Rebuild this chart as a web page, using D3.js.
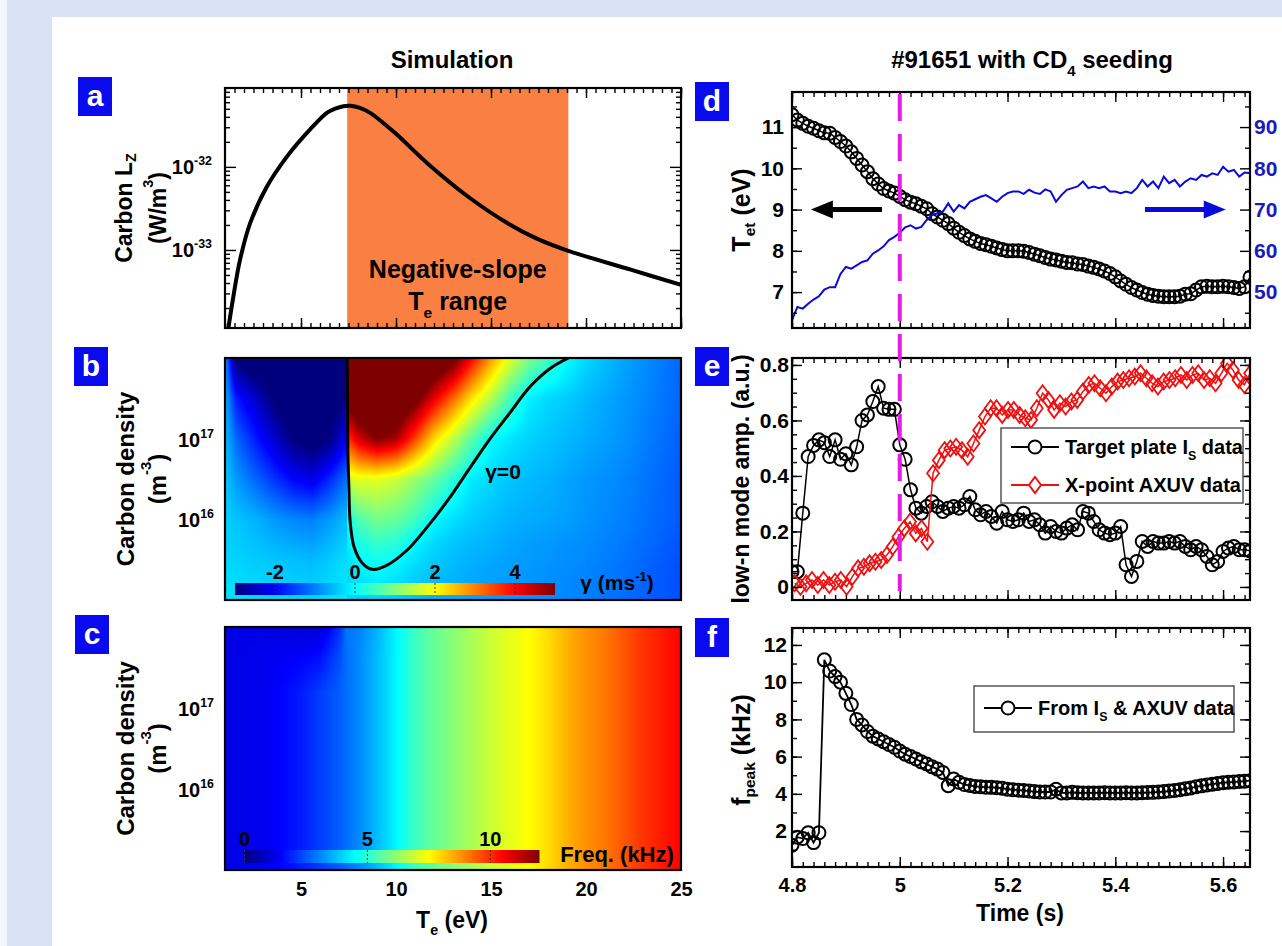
<!DOCTYPE html>
<html>
<head>
<meta charset="utf-8">
<script src="https://cdn.jsdelivr.net/npm/d3@7"></script>
<style>
body { margin: 0; background: #fff; }
svg text { font-family: "Liberation Sans Narrow", "Arial Narrow", "Liberation Sans", Arial, sans-serif; font-weight: bold; }
</style>
</head>
<body>
<svg id="fig"></svg>
<script>
// ---------- data ----------
// (a) carbon radiative cooling rate vs Te
const lzTe = [1.17, 1.44, 1.79, 2.32, 3.2, 4.25, 5.48, 6.36, 6.8, 7.23, 7.6, 8.1, 8.64, 9.94, 11.66, 13.8, 15.96, 17.47, 19.07, 22.4, 25];
const lzVal = [1.12e-34, 2.75e-34, 7.59e-34, 2.09e-33, 5.75e-33, 1.32e-32, 2.82e-32, 4.47e-32, 5.01e-32, 5.37e-32,
               5.43e-32, 5.13e-32, 4.47e-32, 2.57e-32, 1.10e-32, 4.37e-33, 2.04e-33, 1.35e-33, 9.77e-34, 5.75e-34, 3.8e-34];
const negSlope = [7.43, 19.07];

// (b) growth rate gamma (ms^-1) on a Te x log10(n) grid, split at the Lz peak
const gamLogN = [15, 15.5, 16, 16.5, 17, 17.5, 18];
const gamTeCold = [1, 1.6, 2.6, 3.6, 4.6, 5.6, 6.5, 7.42];
const gamCold = [
  [-0.2, -0.22, -0.25, -0.3, -0.3, -0.3, -0.25, -0.15],
  [-0.3, -0.35, -0.4, -0.45, -0.5, -0.55, -0.4, -0.25],
  [-0.35, -0.45, -0.6, -0.8, -0.95, -1.0, -0.8, -0.5],
  [-0.4, -0.8, -1.2, -1.6, -2.0, -2.2, -1.7, -1.1],
  [-0.5, -1.2, -1.8, -2.4, -3.0, -3.3, -3.0, -2.1],
  [-0.6, -1.8, -2.4, -3.1, -3.5, -3.5, -3.4, -2.9],
  [-0.8, -3.2, -3.5, -3.5, -3.5, -3.5, -3.5, -3.5]
];
const gamLogNHot = [15, 15.4, 15.7, 16, 16.5, 17, 17.5, 18];
const gamTeHot = [7.43, 8, 9, 10, 11, 12, 13, 14, 15, 16, 17, 18, 19, 20, 22, 25];
const gamHot = [
  [-0.3, -0.4, -0.35, -0.4, -0.5, -0.6, -0.65, -0.7, -0.75, -0.8, -0.85, -0.9, -0.95, -1.0, -1.15, -1.4],
  [-0.3, -0.1, 0.02, -0.1, -0.3, -0.45, -0.55, -0.65, -0.7, -0.75, -0.8, -0.85, -0.9, -0.95, -1.1, -1.4],
  [-0.15, 0.15, 0.4, 0.3, -0.05, -0.3, -0.45, -0.55, -0.6, -0.7, -0.75, -0.8, -0.85, -0.9, -1.05, -1.35],
  [0.0, 0.6, 0.9, 0.8, 0.5, 0.0, -0.25, -0.4, -0.5, -0.6, -0.65, -0.7, -0.75, -0.85, -1.0, -1.3],
  [1.6, 1.8, 1.8, 1.6, 1.2, 0.8, 0.3, -0.15, -0.3, -0.45, -0.55, -0.6, -0.7, -0.8, -0.95, -1.3],
  [3.5, 4.3, 5.0, 4.7, 3.5, 2.3, 1.5, 0.7, 0.0, -0.2, -0.35, -0.45, -0.55, -0.65, -0.85, -1.25],
  [5.5, 6.0, 6.2, 6.0, 5.3, 4.2, 3.2, 2.2, 1.4, 0.5, -0.1, -0.3, -0.4, -0.55, -0.8, -1.2],
  [8, 8, 7.5, 7, 6.5, 6, 5.3, 4.0, 2.8, 1.8, 1.0, 0.5, 0.03, -0.3, -0.7, -1.2]
];
// gamma = 0 contour
const zeroTe = [7.43, 7.45, 7.47, 7.52, 7.58, 7.79, 8.22, 8.76, 9.51, 10.59, 11.66, 12.74, 13.81, 14.89, 15.96, 17.04, 18.11, 19.08];
const zeroLogN = [18.0, 17.4, 16.82, 16.4, 15.99, 15.66, 15.46, 15.38, 15.43, 15.62, 15.91, 16.24, 16.61, 16.98, 17.31, 17.64, 17.87, 18.0];
const gamTicks = [-2, 0, 2, 4];

// (c) mode frequency (kHz)
const freqTe = [1, 3, 5, 6, 7, 7.4, 8, 9, 10, 11, 12, 13, 14, 15, 16, 17, 18, 19, 20, 21, 22, 23, 24, 25];
const freqLogN = [15, 17.2, 17.6, 18];
const freqGrid = [
  [1.2, 1.3, 1.8, 2.2, 2.6, 2.8, 3.1, 3.7, 4.4, 5.2, 5.7, 6.1, 6.5, 6.9, 7.2, 7.5, 7.9, 8.4, 8.8, 9.1, 9.5, 9.9, 10.2, 10.5],
  [1.2, 1.3, 1.8, 2.2, 2.6, 2.8, 3.1, 3.7, 4.4, 5.2, 5.7, 6.1, 6.5, 6.9, 7.2, 7.5, 7.9, 8.4, 8.8, 9.1, 9.5, 9.9, 10.2, 10.5],
  [1.2, 1.3, 1.5, 1.7, 2.4, 2.8, 3.1, 3.7, 4.4, 5.2, 5.7, 6.1, 6.5, 6.9, 7.2, 7.5, 7.9, 8.4, 8.8, 9.1, 9.5, 9.9, 10.2, 10.5],
  [1.2, 1.2, 1.0, 1.0, 2.0, 2.9, 3.0, 3.6, 4.4, 5.2, 5.7, 6.1, 6.5, 6.9, 7.2, 7.5, 7.9, 8.4, 8.8, 9.1, 9.5, 9.9, 10.2, 10.5]
];
const freqTicks = [0, 5, 10];

// (d)-(f) shot #91651, sampled every 10 ms from 4.80 s
const t0 = 4.80, dt = 0.01;
const tet = [11.30, 11.17, 11.09, 11.02, 10.97, 10.91, 10.86, 10.85, 10.75, 10.65,
  10.54, 10.40, 10.24, 10.08, 9.92, 9.75, 9.62, 9.51, 9.45, 9.40,
  9.32, 9.24, 9.18, 9.14, 9.08, 9.02, 8.90, 8.82, 8.74, 8.66,
  8.55, 8.45, 8.37, 8.29, 8.23, 8.18, 8.15, 8.11, 8.07, 8.03,
  8.00, 8.00, 8.00, 7.99, 7.96, 7.92, 7.88, 7.84, 7.80, 7.78,
  7.75, 7.72, 7.71, 7.68, 7.67, 7.63, 7.60, 7.56, 7.51, 7.45,
  7.37, 7.27, 7.19, 7.11, 7.05, 6.99, 6.95, 6.92, 6.90, 6.89,
  6.89, 6.89, 6.90, 6.95, 6.96, 7.05, 7.13, 7.14, 7.13, 7.13,
  7.14, 7.13, 7.11, 7.09, 7.13, 7.36];
const blueTrace = [43.2, 46.4, 46.0, 47.2, 48.2, 49.0, 50.6, 51.2, 51.2, 54.4,
  56.1, 55.7, 56.5, 57.3, 57.7, 59.3, 60.1, 61.1, 62.6, 63.4,
  64.4, 65.7, 66.2, 65.4, 65.8, 67.5, 68.7, 69.1, 69.5, 71.5,
  69.5, 71.1, 70.3, 71.9, 72.5, 73.1, 73.5, 72.7, 71.9, 73.1,
  74.0, 74.4, 74.4, 73.8, 74.8, 74.1, 73.8, 74.9, 74.4, 71.9,
  73.5, 74.8, 75.2, 75.6, 76.8, 75.2, 75.6, 75.2, 75.6, 74.4,
  74.4, 74.0, 74.4, 74.0, 75.2, 77.2, 75.6, 76.8, 75.2, 78.0,
  76.4, 77.2, 75.6, 76.8, 77.6, 77.2, 78.4, 78.0, 78.8, 78.4,
  80.4, 79.2, 79.6, 78.0, 79.0, 78.8];
const isAmp = [0.055, 0.055, 0.266, 0.47, 0.51, 0.53, 0.52, 0.47, 0.53, 0.46,
  0.48, 0.44, 0.505, 0.60, 0.62, 0.668, 0.722, 0.644, 0.64, 0.64,
  0.512, 0.46, 0.35, 0.284, 0.266, 0.29, 0.307, 0.29, 0.272, 0.284,
  0.29, 0.284, 0.296, 0.326, 0.278, 0.26, 0.272, 0.254, 0.23, 0.272,
  0.242, 0.236, 0.242, 0.266, 0.236, 0.242, 0.224, 0.194, 0.218, 0.2,
  0.194, 0.212, 0.224, 0.206, 0.272, 0.266, 0.236, 0.206, 0.194, 0.188,
  0.194, 0.218, 0.08, 0.038, 0.092, 0.164, 0.146, 0.164, 0.158, 0.158,
  0.164, 0.158, 0.164, 0.146, 0.134, 0.146, 0.134, 0.11, 0.08, 0.092,
  0.128, 0.14, 0.146, 0.134, 0.134, 0.13];
const fPeak = [1.24, 1.67, 1.60, 1.91, 1.38, 1.91, 11.2, 10.6, 10.3, 10.0,
  9.4, 8.8, 8.0, 7.7, 7.35, 7.1, 6.95, 6.8, 6.65, 6.5,
  6.3, 6.13, 6.0, 5.87, 5.72, 5.6, 5.45, 5.33, 5.15, 4.44,
  4.8, 4.62, 4.5, 4.45, 4.4, 4.38, 4.36, 4.35, 4.33, 4.3,
  4.25, 4.22, 4.2, 4.18, 4.15, 4.12, 4.1, 4.1, 4.1, 4.25,
  4.05, 4.05, 4.08, 4.06, 4.05, 4.05, 4.05, 4.05, 4.06, 4.05,
  4.05, 4.05, 4.06, 4.05, 4.05, 4.06, 4.07, 4.08, 4.1, 4.12,
  4.15, 4.18, 4.22, 4.27, 4.32, 4.38, 4.43, 4.48, 4.52, 4.56,
  4.6, 4.62, 4.64, 4.66, 4.68, 4.71];
// AXUV amplitude, its own sampling (~10.7 ms from 4.805 s)
const axT0 = 4.805, axDt = 0.0107;
const axuvAmp = [0.013, 0.001, 0.013, 0.025, 0.007, 0.025, 0.007, 0.019, 0.025, 0.001,
  0.037, 0.067, 0.073, 0.085, 0.091, 0.097, 0.115, 0.145, 0.181, 0.211,
  0.235, 0.193, 0.211, 0.163, 0.41, 0.457, 0.493, 0.499, 0.505, 0.493,
  0.469, 0.517, 0.565, 0.614, 0.644, 0.644, 0.62, 0.638, 0.638, 0.62,
  0.608, 0.602, 0.644, 0.698, 0.674, 0.638, 0.662, 0.65, 0.668, 0.674,
  0.704, 0.728, 0.734, 0.716, 0.698, 0.722, 0.74, 0.746, 0.752, 0.758,
  0.77, 0.752, 0.734, 0.722, 0.74, 0.746, 0.752, 0.764, 0.746, 0.764,
  0.77, 0.746, 0.752, 0.734, 0.77, 0.806, 0.782, 0.746, 0.728, 0.77];
const tSeed = 5.0;

// ---------- setup ----------
const W = 1282, H = 946;
const svg = d3.select('#fig').attr('width', W).attr('height', H);
svg.append('rect').attr('width', W).attr('height', H).attr('fill', '#f3f6fb');
svg.append('rect').attr('x', 7).attr('width', W - 7).attr('height', H).attr('fill', '#dae3f3');
svg.append('rect').attr('x', 52).attr('y', 17).attr('width', W - 52).attr('height', H - 17).attr('fill', '#fff');

const jet = d3.scaleLinear()
  .domain([0, 0.125, 0.375, 0.625, 0.875, 1])
  .range(['#00007f', '#0000ff', '#00ffff', '#ffff00', '#ff0000', '#7f0000'])
  .clamp(true);

// rich text: parts = [[text, 'sub'|'sup'|undefined], ...]
function rich(sel, parts, size) {
  let off = 0;
  parts.forEach(([s, k]) => {
    const target = k === 'sub' ? size * 0.32 : k === 'sup' ? -size * 0.45 : 0;
    const sp = sel.append('tspan').text(s).attr('dy', target - off);
    if (k) sp.attr('font-size', size * 0.62);
    off = target;
  });
  return sel;
}
function text(x, y, parts, size, anchor, color) {
  const t = svg.append('text').attr('x', x).attr('y', y).attr('font-size', size)
    .attr('text-anchor', anchor || 'middle').attr('fill', color || '#000');
  return rich(t, parts, size);
}
function vtext(x, y, parts, size) {
  const t = svg.append('text').attr('transform', `translate(${x},${y}) rotate(-90)`)
    .attr('font-size', size).attr('text-anchor', 'middle').attr('dominant-baseline', 'central');
  return rich(t, parts, size);
}
function ticks(g, scale, side, vals, len, w, h) {
  const fn = {bottom: d3.axisBottom, top: d3.axisTop, left: d3.axisLeft, right: d3.axisRight}[side];
  const tr = side === 'bottom' ? `translate(0,${h})` : side === 'right' ? `translate(${w},0)` : null;
  const a = g.append('g').attr('transform', tr)
    .call(fn(scale).tickValues(vals).tickSize(-len).tickFormat(''));
  a.select('.domain').remove();
  a.selectAll('line').attr('stroke', '#000').attr('stroke-width', 1.4);
}
function labels(g, axis, tr, size, color) {
  const a = g.append('g').attr('transform', tr).call(axis);
  a.select('.domain').remove();
  a.selectAll('line').remove();
  a.attr('font-family', null).attr('font-size', null);
  a.selectAll('text').attr('font-size', size).attr('fill', color || '#000');
  return a;
}
function frame(g, w, h) {
  g.append('rect').attr('width', w).attr('height', h).attr('fill', 'none')
    .attr('stroke', '#000').attr('stroke-width', 2.2);
}
function clip(id, w, h) {
  svg.append('clipPath').attr('id', id).append('rect').attr('width', w).attr('height', h);
  return `url(#${id})`;
}
function tag(x, y, s) {
  svg.append('rect').attr('x', x).attr('y', y).attr('width', 34).attr('height', 39).attr('fill', '#0a0aee');
  svg.append('text').attr('x', x + 17).attr('y', y + 29).attr('text-anchor', 'middle')
    .attr('font-size', 30).attr('fill', '#fff').text(s);
}
function sampleGrid(xs, ys, grid, xv, yv) {
  const i = Math.max(0, Math.min(xs.length - 2, d3.bisectRight(xs, xv) - 1));
  const j = Math.max(0, Math.min(ys.length - 2, d3.bisectRight(ys, yv) - 1));
  const tx = Math.max(0, Math.min(1, (xv - xs[i]) / (xs[i + 1] - xs[i])));
  const ty = Math.max(0, Math.min(1, (yv - ys[j]) / (ys[j + 1] - ys[j])));
  const r0 = grid[j][i] * (1 - tx) + grid[j][i + 1] * tx;
  const r1 = grid[j + 1][i] * (1 - tx) + grid[j + 1][i + 1] * tx;
  return r0 * (1 - ty) + r1 * ty;
}
function heat(g, w, h, x, y, valueAt, color) {
  const cv = document.createElement('canvas');
  cv.width = w; cv.height = h;
  const ctx = cv.getContext('2d');
  const img = ctx.createImageData(w, h);
  for (let py = 0; py < h; py++) {
    const ln = Math.log10(y.invert(py + 0.5));
    for (let px = 0; px < w; px++) {
      const c = d3.rgb(color(valueAt(x.invert(px + 0.5), ln)));
      const k = (py * w + px) * 4;
      img.data[k] = c.r; img.data[k + 1] = c.g; img.data[k + 2] = c.b; img.data[k + 3] = 255;
    }
  }
  ctx.putImageData(img, 0, 0);
  g.append('image').attr('width', w).attr('height', h)
    .attr('preserveAspectRatio', 'none').attr('href', cv.toDataURL());
}
function colorbar(g, id, x0, y0, w, h, dom, tickVals, color) {
  const sx = d3.scaleLinear().domain(dom).range([x0, x0 + w]);
  const grad = svg.append('defs').append('linearGradient').attr('id', id);
  d3.range(0, 1.0001, 0.125).forEach(f => {
    grad.append('stop').attr('offset', f).attr('stop-color', color(dom[0] + f * (dom[1] - dom[0])));
  });
  g.append('rect').attr('x', x0).attr('y', y0).attr('width', w).attr('height', h).attr('fill', `url(#${id})`);
  tickVals.forEach(v => {
    g.append('line').attr('x1', sx(v)).attr('x2', sx(v)).attr('y1', y0).attr('y2', y0 + h)
      .attr('stroke', '#333').attr('stroke-width', 1).attr('stroke-dasharray', '2,2');
    g.append('text').attr('x', sx(v)).attr('y', y0 - 4).attr('text-anchor', 'middle')
      .attr('font-size', 20).text(v);
  });
}

// ---------- left column ----------
const LX = 225, LW = 456;
const xTe = d3.scaleLinear().domain([1, 25]).range([0, LW]);
const teMinor = d3.range(2, 51).map(i => i / 2);
const teMajor = [5, 10, 15, 20, 25];

// (a)
const aY = 88, aH = 240;
const yLz = d3.scaleLog().domain([1.15e-34, 8.9e-32]).range([aH, 0]);
const ga = svg.append('g').attr('transform', `translate(${LX},${aY})`);
ga.append('rect').attr('x', xTe(negSlope[0])).attr('width', xTe(negSlope[1]) - xTe(negSlope[0]))
  .attr('height', aH).attr('fill', '#f97f42');
ga.append('path').datum(lzTe.map((t, i) => [t, lzVal[i]]))
  .attr('clip-path', clip('clipA', LW, aH))
  .attr('fill', 'none').attr('stroke', '#000').attr('stroke-width', 4)
  .attr('d', d3.line().x(d => xTe(d[0])).y(d => yLz(d[1])).curve(d3.curveCatmullRom));
const lzMinor = [];
[-34, -33, -32].forEach(e => d3.range(2, 10).forEach(m => {
  const v = m * Math.pow(10, e);
  if (v > 1.15e-34 && v < 8.9e-32) lzMinor.push(v);
}));
const lzMajor = [1e-33, 1e-32];
ticks(ga, xTe, 'bottom', teMinor, 5, LW, aH); ticks(ga, xTe, 'bottom', teMajor, 10, LW, aH);
ticks(ga, xTe, 'top', teMinor, 5, LW, aH); ticks(ga, xTe, 'top', teMajor, 10, LW, aH);
ticks(ga, yLz, 'left', lzMinor, 5, LW, aH); ticks(ga, yLz, 'left', lzMajor, 11, LW, aH);
ticks(ga, yLz, 'right', lzMinor, 5, LW, aH); ticks(ga, yLz, 'right', lzMajor, 11, LW, aH);
frame(ga, LW, aH);
lzMajor.forEach(v => text(LX - 13, aY + yLz(v) + 7, [['10'], [String(Math.round(Math.log10(v))), 'sup']], 20, 'end'));
text(LX + xTe((negSlope[0] + negSlope[1]) / 2), aY + 190, [['Negative-slope']], 25);
text(LX + xTe((negSlope[0] + negSlope[1]) / 2), aY + 222, [['T'], ['e', 'sub'], [' range']], 25);
vtext(124, aY + aH / 2, [['Carbon L'], ['Z', 'sub']], 23);
vtext(158, aY + aH / 2, [['(W/m'], ['3', 'sup'], [')']], 23);
text(452, 68, [['Simulation']], 24);
tag(78, 77, 'a');

// (b)
const bY = 358, bH = 242;
const yN = d3.scaleLog().domain([1e15, 1e18]).range([bH, 0]);
const gb = svg.append('g').attr('transform', `translate(${LX},${bY})`);
heat(gb, LW, bH, xTe, yN, (te, ln) => te < gamTeHot[0]
  ? sampleGrid(gamTeCold, gamLogN, gamCold, te, ln)
  : sampleGrid(gamTeHot, gamLogNHot, gamHot, te, ln), v => jet((v + 3) / 8));
gb.append('path').datum(zeroTe.map((t, i) => [t, Math.pow(10, zeroLogN[i])]))
  .attr('clip-path', clip('clipB', LW, bH))
  .attr('fill', 'none').attr('stroke', '#000').attr('stroke-width', 3)
  .attr('d', d3.line().x(d => xTe(d[0])).y(d => yN(d[1])).curve(d3.curveCatmullRom));
colorbar(gb, 'cbB', 235 - LX, 583 - bY, 320, 12, [-3, 5], gamTicks, v => jet((v + 3) / 8));
text(503, 479, [['γ=0']], 21);
text(617, 590, [['γ (ms'], ['-1', 'sup'], [')']], 21);
frame(gb, LW, bH);
[1e16, 1e17].forEach(v => text(LX - 11, bY + yN(v) + 8, [['10'], [String(Math.round(Math.log10(v))), 'sup']], 20, 'end'));
vtext(125, bY + bH / 2, [['Carbon density']], 24);
vtext(157, bY + bH / 2, [['(m'], ['-3', 'sup'], [')']], 24);
tag(74, 347, 'b');

// (c)
const cY = 627, cH = 243;
const yN2 = d3.scaleLog().domain([1e15, 1e18]).range([cH, 0]);
const gc = svg.append('g').attr('transform', `translate(${LX},${cY})`);
heat(gc, LW, cH, xTe, yN2, (te, ln) => sampleGrid(freqTe, freqLogN, freqGrid, te, ln), v => jet(v / 12));
colorbar(gc, 'cbC', 244.5 - LX, 850 - cY, 295, 13, [0, 12], freqTicks, v => jet(v / 12));
text(617, 862, [['Freq. (kHz)']], 22);
frame(gc, LW, cH);
[1e16, 1e17].forEach(v => text(LX - 11, cY + yN2(v) + 8, [['10'], [String(Math.round(Math.log10(v))), 'sup']], 20, 'end'));
labels(gc, d3.axisBottom(xTe).tickValues(teMajor).tickSize(0).tickPadding(12), `translate(0,${cH})`, 20);
vtext(125, cY + cH / 2, [['Carbon density']], 24);
vtext(157, cY + cH / 2, [['(m'], ['-3', 'sup'], [')']], 24);
text(452, 928, [['T'], ['e', 'sub'], [' (eV)']], 23);
tag(75, 615, 'c');

// ---------- right column ----------
const RX = 792, RW = 458;
const xT = d3.scaleLinear().domain([4.8, 5.65]).range([0, RW]);
const tMinor = d3.range(240, 283).map(i => i / 50);
const tMajor = [4.8, 5.0, 5.2, 5.4, 5.6];
const series = (vals, start, step) => vals.map((v, i) => [start + i * step, v]);

// (d)
const dY = 92, dH = 236;
const yTet = d3.scaleLinear().domain([6.13, 11.85]).range([dH, 0]);
const yBlue = d3.scaleLinear().domain([41.3, 98.5]).range([dH, 0]);
const gd = svg.append('g').attr('transform', `translate(${RX},${dY})`);
const gdData = gd.append('g').attr('clip-path', clip('clipD', RW, dH));
const tetPts = series(tet, t0, dt);
gdData.append('path').datum(tetPts).attr('fill', 'none').attr('stroke', '#000').attr('stroke-width', 1.5)
  .attr('d', d3.line().x(d => xT(d[0])).y(d => yTet(d[1])));
gdData.selectAll('circle').data(tetPts).join('circle')
  .attr('cx', d => xT(d[0])).attr('cy', d => yTet(d[1])).attr('r', 6.5)
  .attr('fill', 'none').attr('stroke', '#000').attr('stroke-width', 2);
gdData.append('path').datum(series(blueTrace, t0, dt)).attr('fill', 'none')
  .attr('stroke', '#0a0ad8').attr('stroke-width', 2)
  .attr('d', d3.line().x(d => xT(d[0])).y(d => yBlue(d[1])));
// arrows
function arrow(g, xa, xb, y, color) {
  const dir = Math.sign(xb - xa);
  g.append('line').attr('x1', xa).attr('x2', xb - dir * 18).attr('y1', y).attr('y2', y)
    .attr('stroke', color).attr('stroke-width', 5);
  g.append('path').attr('d', `M${xb},${y}L${xb - dir * 22},${y - 9}L${xb - dir * 22},${y + 9}Z`).attr('fill', color);
}
arrow(gd, xT(4.967), xT(4.835), yTet(9), '#000');
arrow(gd, xT(5.455), xT(5.605), yTet(9), '#0a0ad8');
ticks(gd, xT, 'bottom', tMinor, 5, RW, dH); ticks(gd, xT, 'bottom', tMajor, 10, RW, dH);
ticks(gd, xT, 'top', tMinor, 5, RW, dH); ticks(gd, xT, 'top', tMajor, 10, RW, dH);
ticks(gd, yTet, 'left', d3.range(13, 24).map(i => i / 2), 5, RW, dH);
ticks(gd, yTet, 'left', [7, 8, 9, 10, 11], 10, RW, dH);
ticks(gd, yBlue, 'right', [45, 55, 65, 75, 85, 95], 5, RW, dH);
ticks(gd, yBlue, 'right', [50, 60, 70, 80, 90], 10, RW, dH);
frame(gd, RW, dH);
labels(gd, d3.axisLeft(yTet).tickValues([7, 8, 9, 10, 11]).tickSize(0).tickPadding(8).tickFormat(d3.format('d')), null, 21);
labels(gd, d3.axisRight(yBlue).tickValues([50, 60, 70, 80, 90]).tickSize(0).tickPadding(4).tickFormat(d3.format('d')),
  `translate(${RW},0)`, 21, '#1a1ac0');
vtext(741, dY + 118, [['T'], ['et', 'sub'], [' (eV)']], 25);
text(1032, 68, [['#91651 with CD'], ['4', 'sub'], [' seeding']], 24);
tag(695, 82, 'd');

// (e)
const eY = 358, eH = 242;
const yAmp = d3.scaleLinear().domain([-0.047, 0.825]).range([eH, 0]);
const ge = svg.append('g').attr('transform', `translate(${RX},${eY})`);
const geData = ge.append('g').attr('clip-path', clip('clipE', RW, eH));
const isPts = series(isAmp, t0, dt);
const axPts = series(axuvAmp, axT0, axDt);
const diamond = 'M0,-8L6,0L0,8L-6,0Z';
geData.append('path').datum(isPts).attr('fill', 'none').attr('stroke', '#000').attr('stroke-width', 1.5)
  .attr('d', d3.line().x(d => xT(d[0])).y(d => yAmp(d[1])));
geData.selectAll('circle').data(isPts).join('circle')
  .attr('cx', d => xT(d[0])).attr('cy', d => yAmp(d[1])).attr('r', 6.5)
  .attr('fill', 'none').attr('stroke', '#000').attr('stroke-width', 2);
geData.append('path').datum(axPts).attr('fill', 'none').attr('stroke', '#ee1111').attr('stroke-width', 1.5)
  .attr('d', d3.line().x(d => xT(d[0])).y(d => yAmp(d[1])));
geData.selectAll('.dm').data(axPts).join('path').attr('class', 'dm')
  .attr('transform', d => `translate(${xT(d[0])},${yAmp(d[1])})`).attr('d', diamond)
  .attr('fill', 'none').attr('stroke', '#ee1111').attr('stroke-width', 1.8);
ticks(ge, xT, 'bottom', tMinor, 5, RW, eH); ticks(ge, xT, 'bottom', tMajor, 10, RW, eH);
ticks(ge, xT, 'top', tMinor, 5, RW, eH); ticks(ge, xT, 'top', tMajor, 10, RW, eH);
const ampMinor = d3.range(0, 17).map(i => i * 0.05);
const ampMajor = [0, 0.2, 0.4, 0.6, 0.8];
ticks(ge, yAmp, 'left', ampMinor, 5, RW, eH); ticks(ge, yAmp, 'left', ampMajor, 10, RW, eH);
ticks(ge, yAmp, 'right', ampMinor, 5, RW, eH); ticks(ge, yAmp, 'right', ampMajor, 10, RW, eH);
// legend
const lg = ge.append('g').attr('transform', `translate(${1001 - RX},${428 - eY})`);
lg.append('rect').attr('width', 242).attr('height', 75).attr('fill', '#fff').attr('stroke', '#555').attr('stroke-width', 1.5);
lg.append('line').attr('x1', 10).attr('x2', 58).attr('y1', 19).attr('y2', 19).attr('stroke', '#000').attr('stroke-width', 2);
lg.append('circle').attr('cx', 34).attr('cy', 19).attr('r', 6.5).attr('fill', '#fff').attr('stroke', '#000').attr('stroke-width', 2);
lg.append('line').attr('x1', 10).attr('x2', 58).attr('y1', 57).attr('y2', 57).attr('stroke', '#ee1111').attr('stroke-width', 2);
lg.append('path').attr('transform', 'translate(34,57)').attr('d', diamond).attr('fill', '#fff').attr('stroke', '#ee1111').attr('stroke-width', 2);
rich(lg.append('text').attr('x', 64).attr('y', 26).attr('font-size', 20), [['Target plate I'], ['S', 'sub'], [' data']], 20);
rich(lg.append('text').attr('x', 64).attr('y', 64).attr('font-size', 20), [['X-point AXUV data']], 20);
frame(ge, RW, eH);
labels(ge, d3.axisLeft(yAmp).tickValues(ampMajor).tickSize(0).tickPadding(3)
  .tickFormat(d => d === 0 ? '0' : d3.format('.1f')(d)), null, 21);
vtext(741, eY + eH / 2, [['low-n mode amp. (a.u.)']], 23);
tag(695, 347, 'e');

// seeding marker across (d) and (e)
svg.append('line').attr('x1', RX + xT(tSeed)).attr('x2', RX + xT(tSeed)).attr('y1', 94).attr('y2', 591)
  .attr('stroke', '#e21ee2').attr('stroke-width', 4).attr('stroke-dasharray', '27,13');

// (f)
const fY = 628, fH = 239;
const yF = d3.scaleLinear().domain([0.07, 12.91]).range([fH, 0]);
const gf = svg.append('g').attr('transform', `translate(${RX},${fY})`);
const gfData = gf.append('g').attr('clip-path', clip('clipF', RW, fH));
const fPts = series(fPeak, t0, dt);
gfData.append('path').datum(fPts).attr('fill', 'none').attr('stroke', '#000').attr('stroke-width', 1.8)
  .attr('d', d3.line().x(d => xT(d[0])).y(d => yF(d[1])));
gfData.selectAll('circle').data(fPts).join('circle')
  .attr('cx', d => xT(d[0])).attr('cy', d => yF(d[1])).attr('r', 6.5)
  .attr('fill', 'none').attr('stroke', '#000').attr('stroke-width', 2);
ticks(gf, xT, 'bottom', tMinor, 5, RW, fH); ticks(gf, xT, 'bottom', tMajor, 10, RW, fH);
ticks(gf, xT, 'top', tMinor, 5, RW, fH); ticks(gf, xT, 'top', tMajor, 10, RW, fH);
ticks(gf, yF, 'left', d3.range(1, 13), 5, RW, fH); ticks(gf, yF, 'left', [2, 4, 6, 8, 10, 12], 10, RW, fH);
ticks(gf, yF, 'right', d3.range(1, 13), 5, RW, fH); ticks(gf, yF, 'right', [2, 4, 6, 8, 10, 12], 10, RW, fH);
const lf = gf.append('g').attr('transform', `translate(${974 - RX},${686 - fY})`);
lf.append('rect').attr('width', 260).attr('height', 46).attr('fill', '#fff').attr('stroke', '#555').attr('stroke-width', 1.5);
lf.append('line').attr('x1', 10).attr('x2', 58).attr('y1', 22).attr('y2', 22).attr('stroke', '#000').attr('stroke-width', 2);
lf.append('circle').attr('cx', 34).attr('cy', 22).attr('r', 6.5).attr('fill', '#fff').attr('stroke', '#000').attr('stroke-width', 2);
rich(lf.append('text').attr('x', 64).attr('y', 29).attr('font-size', 20), [['From I'], ['S', 'sub'], [' & AXUV data']], 20);
frame(gf, RW, fH);
labels(gf, d3.axisLeft(yF).tickValues([2, 4, 6, 8, 10, 12]).tickSize(0).tickPadding(5).tickFormat(d3.format('d')), null, 21);
labels(gf, d3.axisBottom(xT).tickValues(tMajor).tickSize(0).tickPadding(11)
  .tickFormat(d => d === 5 ? '5' : d3.format('.1f')(d)), `translate(0,${fH})`, 20);
vtext(741, fY + 122, [['f'], ['peak', 'sub'], [' (kHz)']], 25);
text(1020, 921, [['Time (s)']], 23);
tag(695, 618, 'f');
</script>
</body>
</html>
